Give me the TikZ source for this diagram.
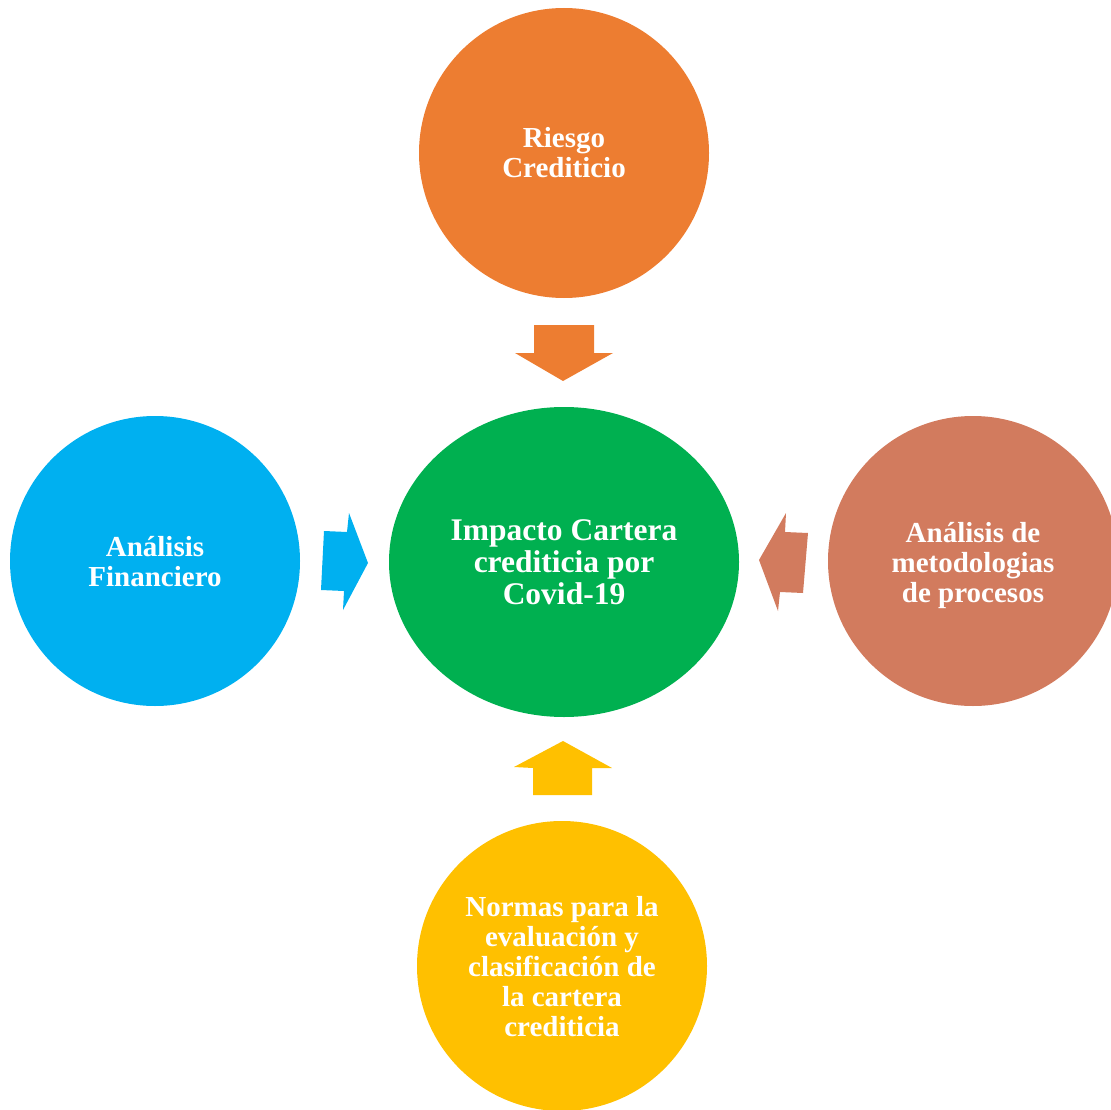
\documentclass[tikz,border=0pt]{standalone}
\usepackage{fontspec}
\usetikzlibrary{shapes.geometric}
\setmainfont{Liberation Serif}
\begin{document}
\begin{tikzpicture}[x=1pt,y=-1pt,
  bub/.style={circle,minimum size=290pt,inner sep=0pt},
  lbl/.style={text=white,align=center,font=\bfseries\fontsize{29}{30}\selectfont},
  clbl/.style={text=white,align=center,font=\bfseries\fontsize{31.5}{32}\selectfont}]
\definecolor{corange}{RGB}{237,125,49}
\definecolor{cgreen}{RGB}{0,176,80}
\definecolor{cblue}{RGB}{0,176,240}
\definecolor{cbrown}{RGB}{210,123,94}
\definecolor{cyellow}{RGB}{255,192,0}
\useasboundingbox (0,0) rectangle (1111,1110);
\clip (0,0) rectangle (1111,1110);
% circles
\node[bub,fill=corange] (top) at (564,153) {};
\node[bub,fill=cblue] (left) at (155,561) {};
\node[bub,fill=cbrown] (right) at (973,561) {};
\node[bub,fill=cyellow] (bot) at (562,966) {};
\node[ellipse,minimum width=350pt,minimum height=310pt,inner sep=0pt,fill=cgreen] (ctr) at (564,562) {};
% texts
\node[lbl] (ttop) at (564,153) {Riesgo\\Crediticio};
\node[lbl] (tleft) at (155,562) {Análisis\\Financiero};
\node[lbl] (tright) at (973,566) {Análisis de\\metodologias\\de procesos};
\node[lbl] (tbot) at (562,967) {Normas para la\\evaluación y\\clasificación de\\la cartera\\crediticia};
\node[clbl] (tctr) at (564,562) {Impacto Cartera\\crediticia por\\Covid-19};
% arrows
\fill[corange] (534,325) -- (594,325) -- (594,353) -- (613,353) -- (563,381) -- (515,353) -- (534,353) -- cycle;
\fill[cblue] (324,531) -- (347,532) -- (349,513) -- (368,563) -- (343,610) -- (344,591) -- (321,590) -- cycle;
\fill[cbrown] (786,513) -- (785,532) -- (808,533) -- (803,593) -- (780,592) -- (778,611) -- (759,560) -- cycle;
\fill[cyellow] (563,741) -- (612,768) -- (592,768) -- (592,795) -- (533,795) -- (533,768) -- (514,767) -- cycle;
\end{tikzpicture}
\end{document}
